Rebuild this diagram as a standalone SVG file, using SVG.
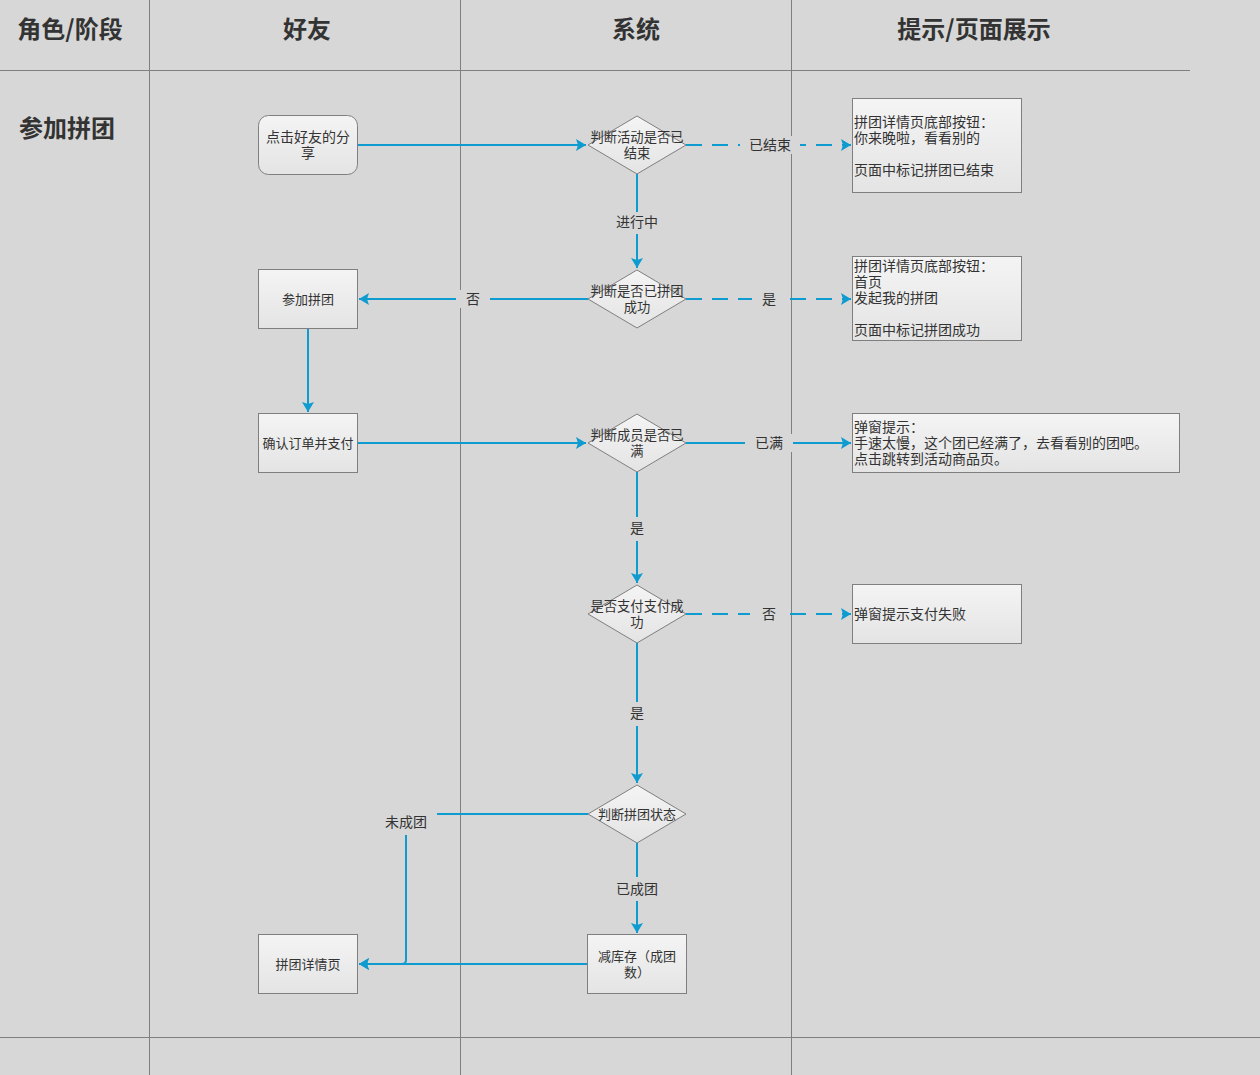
<svg xmlns="http://www.w3.org/2000/svg" width="1260" height="1075" viewBox="0 0 1260 1075">
<defs>
<linearGradient id="g" x1="0" y1="0" x2="0" y2="1"><stop offset="0" stop-color="#f4f4f4"/><stop offset="1" stop-color="#e4e4e4"/></linearGradient>
<marker id="ah" markerWidth="10" markerHeight="12" refX="10" refY="6" orient="auto" markerUnits="userSpaceOnUse"><path d="M0,0 L10,6 L0,12 L2,6 Z" fill="#0e9bd0"/></marker>
</defs>
<style>
.hd{font-family:"Noto Sans CJK SC","Liberation Sans",sans-serif;font-size:24px;font-weight:bold;fill:#333}
.t{font-family:"Noto Sans CJK SC","Liberation Sans",sans-serif;font-size:14px;fill:#333}
.s{font-size:13.3px}
.m{font-size:13px}
.n{fill:url(#g);stroke:#7f7f7f;stroke-width:1}
.c{fill:none;stroke:#0e9bd0;stroke-width:2}
.d{stroke-dasharray:16,10}
.lb{fill:#d7d7d7}
.grid{stroke:#7f7f7f;stroke-width:1}
</style>
<rect x="0" y="0" width="1260" height="1075" fill="#d7d7d7"/>
<g id="grid" class="grid">
<line x1="149.5" y1="0" x2="149.5" y2="1075"/>
<line x1="460.5" y1="0" x2="460.5" y2="1075"/>
<line x1="791.5" y1="0" x2="791.5" y2="1075"/>
<line x1="0" y1="70.5" x2="1190" y2="70.5"/>
<line x1="0" y1="1037.5" x2="1260" y2="1037.5"/>
</g>
<g id="headers">
<text class="hd" x="70" y="38" text-anchor="middle">角色/阶段</text>
<text class="hd" x="307" y="38" text-anchor="middle">好友</text>
<text class="hd" x="636" y="38" text-anchor="middle">系统</text>
<text class="hd" x="974" y="38" text-anchor="middle">提示/页面展示</text>
<text class="hd" x="19" y="137">参加拼团</text>
</g>
<g id="connectors">
<path class="c" d="M357,145 H586" marker-end="url(#ah)"/>
<path class="c d" d="M686,145 H851" marker-end="url(#ah)"/>
<path class="c" d="M637,174 V268" marker-end="url(#ah)"/>
<path class="c" d="M588,299 H359" marker-end="url(#ah)"/>
<path class="c d" d="M686,299 H851" marker-end="url(#ah)"/>
<path class="c" d="M308,328 V412" marker-end="url(#ah)"/>
<path class="c" d="M357,443 H586" marker-end="url(#ah)"/>
<path class="c" d="M686,443 H851" marker-end="url(#ah)"/>
<path class="c" d="M637,472 V583" marker-end="url(#ah)"/>
<path class="c d" d="M686,614 H851" marker-end="url(#ah)"/>
<path class="c" d="M637,643 V783" marker-end="url(#ah)"/>
<path class="c" d="M588,814 H406 V960 Q406,964 402,964 H359" marker-end="url(#ah)"/>
<path class="c" d="M637,843 V933" marker-end="url(#ah)"/>
<path class="c" d="M587,964 H359" marker-end="url(#ah)"/>
<rect class="lb" x="740" y="136" width="60" height="18"/>
<text class="t" x="770" y="150" text-anchor="middle">已结束</text>
<rect class="lb" x="612" y="212" width="50" height="22"/>
<text class="t" x="637" y="227" text-anchor="middle">进行中</text>
<rect class="lb" x="456" y="290" width="34" height="18"/>
<text class="t" x="473" y="304" text-anchor="middle">否</text>
<rect class="lb" x="752" y="290" width="36" height="18"/>
<text class="t" x="769" y="304" text-anchor="middle">是</text>
<rect class="lb" x="745" y="434" width="48" height="18"/>
<text class="t" x="769" y="448" text-anchor="middle">已满</text>
<rect class="lb" x="622" y="517" width="30" height="24"/>
<text class="t" x="637" y="533" text-anchor="middle">是</text>
<rect class="lb" x="750" y="605" width="40" height="18"/>
<text class="t" x="769" y="619" text-anchor="middle">否</text>
<rect class="lb" x="622" y="702" width="30" height="24"/>
<text class="t" x="637" y="718" text-anchor="middle">是</text>
<rect class="lb" x="376" y="805" width="61" height="30"/>
<text class="t" x="406" y="827" text-anchor="middle">未成团</text>
<rect class="lb" x="612" y="877" width="50" height="24"/>
<text class="t" x="637" y="894" text-anchor="middle">已成团</text>
</g>
<g id="n1"><rect class="n" x="258.5" y="115.5" width="99" height="59" rx="10"/><text class="t" text-anchor="middle"><tspan x="308" y="142">点击好友的分</tspan><tspan x="308" y="158">享</tspan></text></g>
<g id="d1"><polygon class="n" points="637,116 686,145 637,174 588,145"/><text class="t s" text-anchor="middle"><tspan x="637" y="142">判断活动是否已</tspan><tspan x="637" y="158">结束</tspan></text></g>
<g id="b1"><rect class="n" x="852.5" y="98.5" width="169" height="94"/><text class="t"><tspan x="854" y="127">拼团详情页底部按钮：</tspan><tspan x="854" y="143">你来晚啦，看看别的</tspan><tspan x="854" y="175">页面中标记拼团已结束</tspan></text></g>
<g id="n2"><rect class="n" x="258.5" y="269.5" width="99" height="59"/><text class="t m" x="308" y="304" text-anchor="middle">参加拼团</text></g>
<g id="d2"><polygon class="n" points="637,270 686,299 637,328 588,299"/><text class="t s" text-anchor="middle"><tspan x="637" y="296">判断是否已拼团</tspan><tspan x="637" y="312">成功</tspan></text></g>
<g id="b2"><rect class="n" x="852.5" y="256.5" width="169" height="84"/><text class="t"><tspan x="854" y="271">拼团详情页底部按钮：</tspan><tspan x="854" y="287">首页</tspan><tspan x="854" y="303">发起我的拼团</tspan><tspan x="854" y="335">页面中标记拼团成功</tspan></text></g>
<g id="n3"><rect class="n" x="258.5" y="413.5" width="99" height="59"/><text class="t m" x="308" y="448" text-anchor="middle">确认订单并支付</text></g>
<g id="d3"><polygon class="n" points="637,414 686,443 637,472 588,443"/><text class="t s" text-anchor="middle"><tspan x="637" y="440">判断成员是否已</tspan><tspan x="637" y="456">满</tspan></text></g>
<g id="b3"><rect class="n" x="852.5" y="413.5" width="327" height="59"/><text class="t"><tspan x="854" y="432">弹窗提示：</tspan><tspan x="854" y="448">手速太慢，这个团已经满了，去看看别的团吧。</tspan><tspan x="854" y="464">点击跳转到活动商品页。</tspan></text></g>
<g id="d4"><polygon class="n" points="637,585 686,614 637,643 588,614"/><text class="t s" text-anchor="middle"><tspan x="637" y="611">是否支付支付成</tspan><tspan x="637" y="627">功</tspan></text></g>
<g id="b4"><rect class="n" x="852.5" y="584.5" width="169" height="59"/><text class="t" x="854" y="619">弹窗提示支付失败</text></g>
<g id="d5"><polygon class="n" points="637,785 686,814 637,843 588,814"/><text class="t m" x="637" y="819" text-anchor="middle">判断拼团状态</text></g>
<g id="n4"><rect class="n" x="587.5" y="934.5" width="99" height="59"/><text class="t m" text-anchor="middle"><tspan x="637" y="961">减库存（成团</tspan><tspan x="637" y="977">数）</tspan></text></g>
<g id="n5"><rect class="n" x="258.5" y="934.5" width="99" height="59"/><text class="t m" x="308" y="969" text-anchor="middle">拼团详情页</text></g>
</svg>
